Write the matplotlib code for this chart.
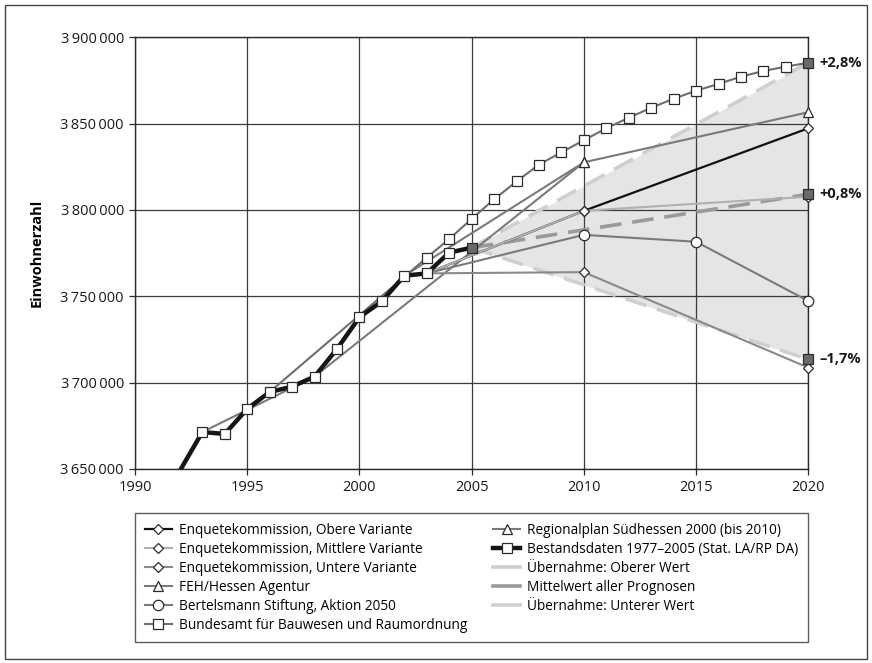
import matplotlib
matplotlib.use('Agg')
import matplotlib.pyplot as plt
from matplotlib.patches import Rectangle
from matplotlib.lines import Line2D
import matplotlib.ticker as mticker

plt.rcParams['font.family'] = ['Open Sans', 'DejaVu Sans']

# ---------------- data ----------------
bestand_years = list(range(1991, 2006))
bestand_vals = [3630000, 3649000, 3671400, 3670300, 3684800, 3694600, 3697700,
                3703500, 3719500, 3737900, 3747100, 3761900, 3763300, 3775300, 3778200]

bbr_years = [1996] + list(range(2003, 2021))
bbr_vals = [3694600, 3772400, 3783200, 3794800, 3806200, 3816500, 3826300, 3833400,
            3840400, 3847300, 3853400, 3859200, 3864400, 3869100, 3873000, 3877200,
            3880500, 3883000, 3885300]

enq_years = [2003, 2010, 2020]
enq_obere = [3763300, 3799500, 3847300]
enq_mittlere = [3763300, 3799500, 3807700]
enq_untere = [3763300, 3764000, 3708700]

feh_years = [2002, 2010, 2020]
feh_vals = [3761900, 3827600, 3856600]

bert_years = [2003, 2010, 2015, 2020]
bert_vals = [3763300, 3785600, 3781600, 3747300]

reg_years = [1993, 1998, 2010]
reg_vals = [3671400, 3703500, 3827600]

ueb_years = [2005, 2020]
ueb_oberer = [3778200, 3885300]
ueb_mittel = [3778200, 3809100]
ueb_unterer = [3778200, 3713500]
end_labels = ['+2,8%', '+0,8%', '\u20131,7%']

legend_labels = [
    'Enquetekommission, Obere Variante',
    'Enquetekommission, Mittlere Variante',
    'Enquetekommission, Untere Variante',
    'FEH/Hessen Agentur',
    'Bertelsmann Stiftung, Aktion 2050',
    'Bundesamt für Bauwesen und Raumordnung',
    'Regionalplan Südhessen 2000 (bis 2010)',
    'Bestandsdaten 1977\u20132005 (Stat. LA/RP DA)',
    'Übernahme: Oberer Wert',
    'Mittelwert aller Prognosen',
    'Übernahme: Unterer Wert',
]

# ---------------- figure ----------------
W, H = 872, 663
fig = plt.figure(figsize=(W / 100, H / 100), dpi=100)
ax = fig.add_axes([135 / W, 1 - 469 / H, (808.3 - 135) / W, (469 - 37.3) / H])

edge = '#2b2b2b'
c_light = '#b0b0b0'
c_mid = '#8a8a8a'
c_grey = '#7a7a7a'
c_dash_light = '#cfcfcf'
c_dash_mid = '#9a9a9a'
c_fill = '#e5e5e7'

# fill between the two adoption lines
ax.fill_between(ueb_years, ueb_unterer, ueb_oberer, color=c_fill, lw=0, zorder=0.2)
ax.set_axisbelow(True)

# adoption lines
dash = (0, (6, 3))
ax.plot(ueb_years, ueb_oberer, color=c_dash_light, lw=2.6, ls=dash, zorder=2)
ax.plot(ueb_years, ueb_unterer, color=c_dash_light, lw=2.6, ls=dash, zorder=2)
ax.plot(ueb_years, ueb_mittel, color=c_dash_mid, lw=2.6, ls=dash, zorder=2.1)

mk = dict(markerfacecolor='white', markeredgecolor=edge, markeredgewidth=0.9)
nc = dict(clip_on=False)

# projections
ax.plot(reg_years, reg_vals, color=c_grey, lw=1.5, marker='^', ms=7,
        markevery=[2], zorder=3, **mk, **nc)
ax.plot(feh_years, feh_vals, color=c_grey, lw=1.5, marker='^', ms=7,
        markevery=[1, 2], zorder=3, **mk, **nc)
ax.plot(enq_years, enq_obere, color='#111111', lw=1.6, marker='D', ms=5,
        markevery=[1, 2], zorder=3.2, **mk, **nc)
ax.plot(enq_years, enq_untere, color=c_mid, lw=1.5, marker='D', ms=5,
        markevery=[1, 2], zorder=3.1, **mk, **nc)
ax.plot(enq_years, enq_mittlere, color=c_light, lw=1.5, marker='D', ms=5,
        markevery=[1, 2], zorder=3.3, **mk, **nc)
ax.plot(bert_years, bert_vals, color=c_grey, lw=1.5, marker='o', ms=7.5,
        markevery=[1, 2, 3], zorder=3.4, **mk, **nc)
ax.plot(bbr_years, bbr_vals, color='#6e6e6e', lw=1.5, marker='s', ms=7.5,
        markevery=list(range(1, len(bbr_years) - 1)), zorder=3.5, **mk, **nc)

# observed data
ax.plot(bestand_years, bestand_vals, color='#151515', lw=3.2, marker='s', ms=7.5,
        markevery=list(range(2, len(bestand_years) - 1)), zorder=5, **mk)
ax.plot([bestand_years[-1]], [bestand_vals[-1]], ls='none', marker='s', ms=7.5,
        markerfacecolor='#6a6a6a', markeredgecolor=edge, markeredgewidth=0.9, zorder=6)

# end markers
ends = [ueb_oberer[-1], ueb_mittel[-1], ueb_unterer[-1]]
for v, lab in zip(ends, end_labels):
    ax.plot([ueb_years[-1]], [v], ls='none', marker='s', ms=7.5,
            markerfacecolor='#6a6a6a', markeredgecolor=edge, markeredgewidth=0.9,
            zorder=7, clip_on=False)
    ax.annotate(lab, (ueb_years[-1], v), xytext=(8, 0), textcoords='offset points',
                va='center', ha='left', fontsize=10.5, fontweight='bold', color='#1a1a1a')

# axes
ax.set_xlim(1990, 2020)
ax.set_ylim(3650000, 3900000)
ax.xaxis.set_major_locator(mticker.MultipleLocator(5))
ax.yaxis.set_major_locator(mticker.MultipleLocator(50000))
ax.yaxis.set_major_formatter(mticker.FuncFormatter(
    lambda v, p: f'{int(v):,}'.replace(',', '\u2009')))
ax.grid(True, color='#3a3a3a', lw=0.9)
for s in ax.spines.values():
    s.set_color('#2b2b2b')
    s.set_linewidth(1.0)
ax.tick_params(direction='out', length=4, width=0.9, color='#2b2b2b',
               labelsize=10.5, labelcolor='#1a1a1a', pad=4)
ax.set_ylabel('Einwohnerzahl', fontsize=10.5, fontweight='bold', labelpad=12)

# legend
styles = [
    dict(color='#111111', lw=1.6, marker='D', ms=5),
    dict(color=c_light, lw=1.5, marker='D', ms=5),
    dict(color=c_mid, lw=1.5, marker='D', ms=5),
    dict(color=c_grey, lw=1.5, marker='^', ms=7),
    dict(color=c_grey, lw=1.5, marker='o', ms=7.5),
    dict(color='#6e6e6e', lw=1.5, marker='s', ms=7.5),
    dict(color=c_grey, lw=1.5, marker='^', ms=7),
    dict(color='#151515', lw=3.2, marker='s', ms=7.5),
    dict(color=c_dash_light, lw=2.6),
    dict(color=c_dash_mid, lw=2.6),
    dict(color=c_dash_light, lw=2.6),
]
handles = []
for st in styles:
    if 'marker' in st:
        handles.append(Line2D([], [], **st, **mk))
    else:
        handles.append(Line2D([], [], **st))
leg = fig.legend(handles, legend_labels, ncol=2, loc='upper left',
                 bbox_to_anchor=(135 / W, 1 - 637 / H, (808 - 135) / W, (637 - 513) / H),
                 mode='expand', fontsize=9.8, frameon=True, fancybox=False,
                 edgecolor='#333333', handlelength=2.0, handletextpad=0.5,
                 labelspacing=0.3, borderpad=0.7, borderaxespad=0)
leg.get_frame().set_linewidth(1.0)

# outer frame
fig.patches.append(Rectangle((5 / W, 1 - 659 / H), 862 / W, 654 / H, fill=False,
                             edgecolor='#444444', lw=1.0, transform=fig.transFigure))

fig.savefig('out.png', dpi=100)
